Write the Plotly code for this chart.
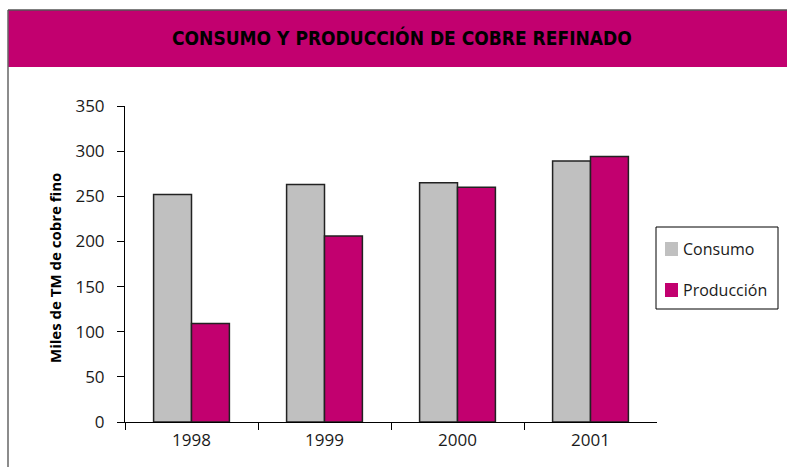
import plotly.graph_objects as go

# Refined copper: consumption vs. production (thousand metric tons of fine copper)
years = ["1998", "1999", "2000", "2001"]
consumo = [252, 263, 265, 289]
produccion = [109, 206, 260, 294]
y_ticks = [0, 50, 100, 150, 200, 250, 300, 350]
series_names = ["Consumo", "Producción"]

W, H = 787, 467
MAGENTA = "#C2006F"
GRAY = "#C0C0C0"
TEXT = "#1a1a1a"
BODY_FONT = "Open Sans, Noto Sans, DejaVu Sans, sans-serif"
TITLE_FONT = "Liberation Sans Narrow, DejaVu Sans Condensed, sans-serif"
colors = [GRAY, MAGENTA]


def px_x(x):
    return x / W


def px_y(y):
    return (H - y) / H


fig = go.Figure()
for name, vals, col in zip(series_names, [consumo, produccion], colors):
    fig.add_trace(go.Bar(
        x=years, y=vals, name=name,
        marker=dict(color=col, line=dict(color="#222222", width=1.5)),
    ))

fig.update_layout(
    width=W, height=H,
    margin=dict(l=0, r=0, t=0, b=0, pad=0, autoexpand=False),
    paper_bgcolor="white", plot_bgcolor="white",
    barmode="group", bargap=0.43, bargroupgap=0,
    font=dict(family=BODY_FONT, size=17, color=TEXT),
    showlegend=False,
    xaxis=dict(
        domain=[px_x(125), px_x(657)],
        type="category", automargin=False,
        showline=True, linecolor="black", linewidth=1,
        ticks="outside", tickson="boundaries", ticklen=7, tickcolor="black",
        tickfont=dict(size=17, color=TEXT), ticklabelstandoff=3,
        showgrid=False, zeroline=False,
        fixedrange=True,
    ),
    yaxis=dict(
        domain=[px_y(422), px_y(106)],
        range=[0, 350], automargin=False,
        tickvals=y_ticks,
        showline=True, linecolor="black", linewidth=1,
        ticks="outside", ticklen=7, tickcolor="black",
        tickfont=dict(size=17, color=TEXT), ticklabelstandoff=9,
        showgrid=False, zeroline=False,
        fixedrange=True,
    ),
)

# Frame and magenta header band
fig.add_shape(type="line", xref="paper", yref="paper",
              x0=px_x(8), x1=px_x(8), y0=0, y1=px_y(10),
              line=dict(color="#666666", width=1.5))
fig.add_shape(type="rect", xref="paper", yref="paper",
              x0=px_x(8), x1=1, y0=px_y(67), y1=px_y(10),
              line=dict(width=0), fillcolor=MAGENTA, layer="below")
fig.add_shape(type="line", xref="paper", yref="paper",
              x0=px_x(8), x1=1, y0=px_y(10), y1=px_y(10),
              line=dict(color="#555555", width=1.5))

fig.add_annotation(
    text="<b>CONSUMO Y PRODUCCIÓN DE COBRE REFINADO</b>",
    xref="paper", yref="paper", x=px_x(402), y=px_y(38),
    xanchor="center", yanchor="middle", showarrow=False,
    font=dict(family=TITLE_FONT, size=19, color="black"),
)

fig.add_annotation(
    text="<b>Miles de TM de cobre fino</b>",
    xref="paper", yref="paper", x=px_x(55), y=px_y(268),
    xanchor="center", yanchor="middle", showarrow=False, textangle=-90,
    font=dict(family=BODY_FONT, size=15, color="black"),
)

# Legend box with a colour swatch and label per series
fig.add_shape(type="rect", xref="paper", yref="paper",
              x0=px_x(656), x1=px_x(778), y0=px_y(309), y1=px_y(227),
              line=dict(color="black", width=1), fillcolor="white")
for i, (name, col) in enumerate(zip(series_names, colors)):
    cy = 249 + i * 41
    fig.add_shape(type="rect", xref="paper", yref="paper",
                  x0=px_x(665), x1=px_x(678), y0=px_y(cy + 7), y1=px_y(cy - 7),
                  line=dict(width=0), fillcolor=col)
    fig.add_annotation(
        text=name, xref="paper", yref="paper", x=px_x(681), y=px_y(cy),
        xanchor="left", yanchor="middle", showarrow=False,
        font=dict(family=BODY_FONT, size=16, color=TEXT),
    )

fig.write_html("out.html", config={"displayModeBar": False})
